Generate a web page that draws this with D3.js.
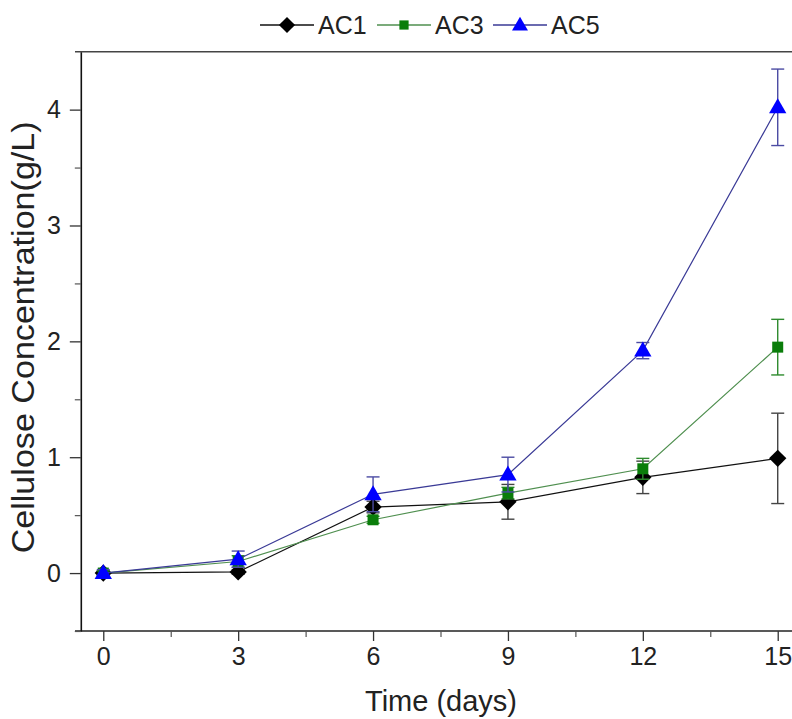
<!DOCTYPE html>
<html>
<head>
<meta charset="utf-8">
<script src="https://cdn.jsdelivr.net/npm/d3@7"></script>
<style>
  body { margin: 0; background: #fff; }
  text { font-family: "Liberation Sans", Arial, sans-serif; }
</style>
</head>
<body>
<div id="chart"></div>
<script>
// Data
var days = [0, 3, 6, 9, 12, 15];
var ac1 = [0, 0.01, 0.57, 0.615, 0.826, 0.99];
var ac1Err = [0.02, 0.02, 0.05, 0.15, 0.14, 0.39];
var ac3 = [0, 0.1, 0.46, 0.69, 0.90, 1.95];
var ac3Err = [0.02, 0.05, 0.03, 0.05, 0.09, 0.24];
var ac5 = [0, 0.12, 0.68, 0.85, 1.92, 4.02];
var ac5Err = [0.03, 0.07, 0.15, 0.15, 0.07, 0.33];
var xTicks = [0, 3, 6, 9, 12, 15];
var yTicks = [0, 1, 2, 3, 4];
var seriesNames = ["AC1", "AC3", "AC5"];

var width = 792, height = 719;

var x = d3.scaleLinear().domain([-0.5, 15.5]).range([80.8, 800.2]);
var y = d3.scaleLinear().domain([-0.5, 4.5]).range([631, 51.7]);

var svg = d3.select("#chart").append("svg")
    .attr("width", width)
    .attr("height", height);

// series styling
var series = [
  {name: seriesNames[0], v: ac1, e: ac1Err, sym: "diamond", fill: "#000", line: "#111", err: "#444"},
  {name: seriesNames[1], v: ac3, e: ac3Err, sym: "square", fill: "#0a7d0a", line: "#4f8f4f", err: "#2e8b2e"},
  {name: seriesNames[2], v: ac5, e: ac5Err, sym: "triangle", fill: "#0000ff", line: "#3a3a96", err: "#4b4ba3"}
];

function symbolPath(s, big) {
  if (s === "diamond") return d3.symbol().type(d3.symbolSquare).size(big ? 150 : 130)();
  if (s === "square") return d3.symbol().type(d3.symbolSquare).size(big ? 121 : 85)();
  return d3.symbol().type(d3.symbolTriangle).size(big ? 130 : 110)();
}
function symbolTransform(s, cx, cy) {
  if (s === "diamond") return "translate(" + cx + "," + cy + ") rotate(45)";
  if (s === "triangle") return "translate(" + cx + "," + (cy + 1) + ")";
  return "translate(" + cx + "," + cy + ")";
}

// frame top line
svg.append("line").attr("x1", 75).attr("x2", width).attr("y1", y(4.5)).attr("y2", y(4.5))
    .attr("stroke", "#444").attr("stroke-width", 1.6);

// Add x axis (major)
svg.append("g")
    .attr("transform", "translate(0," + y(-0.5) + ")")
    .call(d3.axisBottom(x).tickValues(xTicks).tickSize(10).tickPadding(6).tickSizeOuter(0))
    .call(function(g) {
      g.select(".domain").attr("d", "M75,0H" + width).attr("stroke", "#222").attr("stroke-width", 1.6);
      g.selectAll(".tick line").attr("stroke", "#333").attr("stroke-width", 1.3);
      g.selectAll("text").attr("font-size", 25).attr("fill", "#222");
    });

// x minor ticks
svg.append("g")
    .attr("transform", "translate(0," + y(-0.5) + ")")
    .call(d3.axisBottom(x).tickValues([1.5, 4.5, 7.5, 10.5, 13.5]).tickSize(6).tickFormat(""))
    .call(function(g) {
      g.select(".domain").remove();
      g.selectAll(".tick line").attr("stroke", "#555").attr("stroke-width", 1.2);
    });

// Add y axis (major)
svg.append("g")
    .attr("transform", "translate(" + x(-0.5) + ",0)")
    .call(d3.axisLeft(y).tickValues(yTicks).tickFormat(d3.format("d")).tickSize(11).tickPadding(9).tickSizeOuter(0))
    .call(function(g) {
      g.select(".domain").attr("stroke", "#111").attr("stroke-width", 1.6);
      g.selectAll(".tick line").attr("stroke", "#333").attr("stroke-width", 1.3);
      g.selectAll("text").attr("font-size", 25).attr("fill", "#222");
    });

// y minor ticks
svg.append("g")
    .attr("transform", "translate(" + x(-0.5) + ",0)")
    .call(d3.axisLeft(y).tickValues([-0.5, 0.5, 1.5, 2.5, 3.5]).tickSize(6).tickFormat(""))
    .call(function(g) {
      g.select(".domain").remove();
      g.selectAll(".tick line").attr("stroke", "#555").attr("stroke-width", 1.2);
    });

// axis titles
svg.append("text")
    .attr("x", 441)
    .attr("y", 711)
    .attr("text-anchor", "middle")
    .attr("font-size", 29)
    .attr("fill", "#222")
    .text("Time (days)");

svg.append("text")
    .attr("transform", "translate(34," + ((y(4.5) + y(-0.5)) / 2 - 4) + ") rotate(-90)")
    .attr("text-anchor", "middle")
    .attr("font-size", 31)
    .attr("textLength", 432)
    .attr("lengthAdjust", "spacingAndGlyphs")
    .attr("fill", "#222")
    .text("Cellulose Concentration(g/L)");

// series: lines, error bars, markers
var plot = svg.append("g");
series.forEach(function(s) {
  var pts = days.map(function(d, i) { return {x: d, v: s.v[i], e: s.e[i]}; });

  plot.append("path")
      .datum(pts)
      .attr("fill", "none")
      .attr("stroke", s.line)
      .attr("stroke-width", 1.2)
      .attr("d", d3.line().x(function(d) { return x(d.x); }).y(function(d) { return y(d.v); }));

  var eb = plot.append("g").attr("stroke", s.err).attr("stroke-width", 1.4);
  pts.forEach(function(d) {
    var cx = x(d.x), y1 = y(d.v + d.e), y2 = y(d.v - d.e);
    eb.append("line").attr("x1", cx).attr("x2", cx).attr("y1", y1).attr("y2", y2);
    eb.append("line").attr("x1", cx - 6.5).attr("x2", cx + 6.5).attr("y1", y1).attr("y2", y1);
    eb.append("line").attr("x1", cx - 6.5).attr("x2", cx + 6.5).attr("y1", y2).attr("y2", y2);
  });

  plot.selectAll(".m-" + s.sym)
      .data(pts)
    .enter().append("path")
      .attr("class", "m-" + s.sym)
      .attr("d", symbolPath(s.sym, true))
      .attr("transform", function(d) { return symbolTransform(s.sym, x(d.x), y(d.v)); })
      .attr("fill", s.fill);
});

// legend
var legendX = [260, 377, 493];
var legend = svg.append("g");
series.forEach(function(s, i) {
  var lx = legendX[i], ly = 25;
  legend.append("line").attr("x1", lx).attr("x2", lx + 54).attr("y1", ly).attr("y2", ly)
      .attr("stroke", s.line).attr("stroke-width", 1.4);
  legend.append("path")
      .attr("d", symbolPath(s.sym, false))
      .attr("transform", symbolTransform(s.sym, lx + 27, ly))
      .attr("fill", s.fill);
  legend.append("text")
      .attr("x", lx + 58)
      .attr("y", ly + 9)
      .attr("font-size", 25)
      .attr("fill", "#222")
      .text(s.name);
});
</script>
</body>
</html>
